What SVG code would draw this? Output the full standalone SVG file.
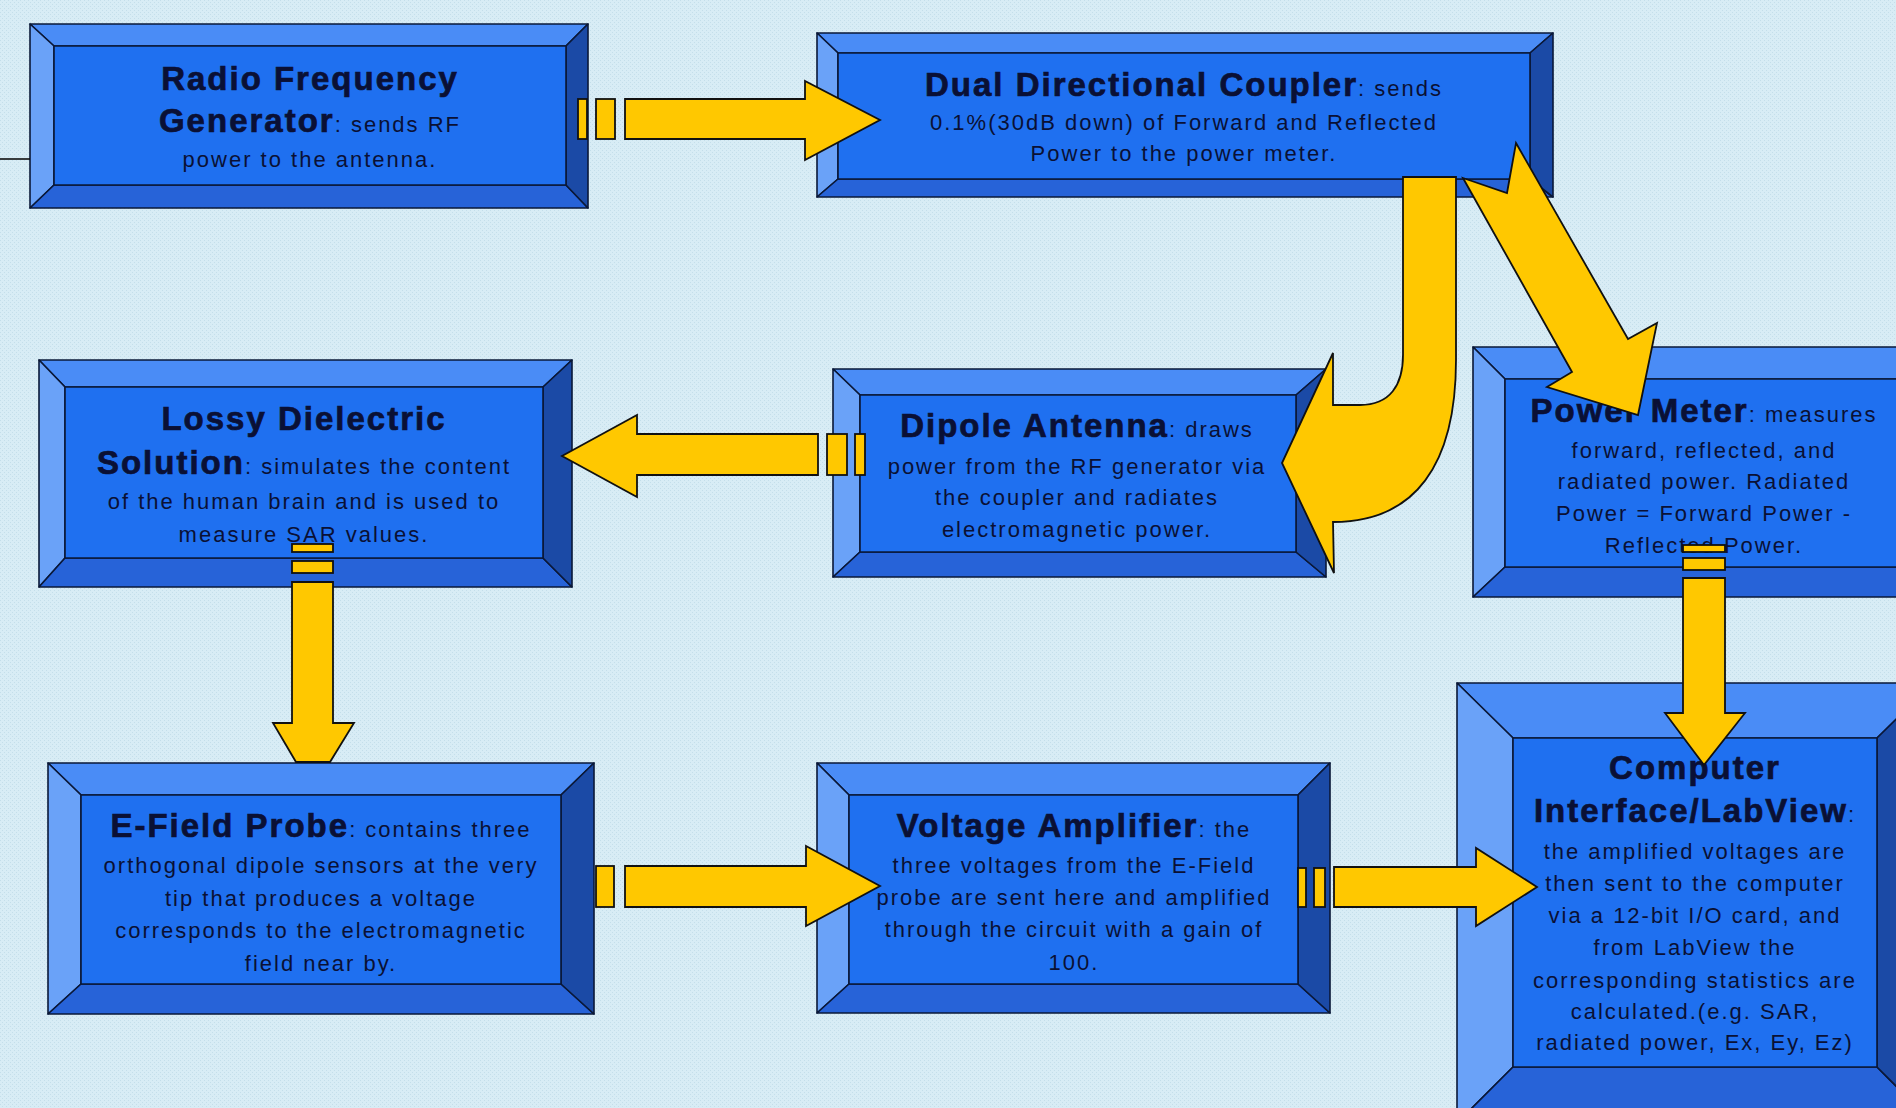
<svg xmlns="http://www.w3.org/2000/svg" width="1896" height="1108" viewBox="0 0 1896 1108">
<style>
.bt{fill:#4a8cf6}.bl{fill:#6aa2f8}.bb{fill:#2763d8}.br{fill:#1b4aa6}.bf{fill:#1f70f0}
.bt,.bl,.bb,.br,.bf{stroke:#0a1838;stroke-width:1.6;stroke-linejoin:round}
.ar{fill:#ffc800;stroke:#111;stroke-width:1.8;stroke-linejoin:miter}
text{font-family:"Liberation Sans",Arial,sans-serif;fill:#0a1035;text-anchor:middle}
.s{font-size:22px;letter-spacing:2px}
.b{font-size:33px;font-weight:bold;letter-spacing:2px;stroke:#0a1035;stroke-width:0.7}
</style>
<defs>
<pattern id="bg" width="4" height="4" patternUnits="userSpaceOnUse">
<rect width="4" height="4" fill="#d8ecf5"/>
<rect x="0" y="0" width="1" height="1" fill="#c4deea"/>
<rect x="2" y="2" width="1" height="1" fill="#c4deea"/>
</pattern>
</defs>
<rect width="1896" height="1108" fill="url(#bg)"/>

<g id="rf-generator">
<polygon class="bt" points="30,24 588,24 566,46 54,46"/>
<polygon class="bl" points="30,24 54,46 54,185 30,208"/>
<polygon class="bb" points="30,208 54,185 566,185 588,208"/>
<polygon class="br" points="588,24 588,208 566,185 566,46"/>
<rect class="bf" x="54" y="46" width="512" height="139"/>
<text class="b" x="310" y="90">Radio Frequency</text>
<text class="s" x="310" y="132"><tspan class="b">Generator</tspan>: sends RF</text>
<text class="s" x="310" y="167">power to the antenna.</text>
</g>

<g id="coupler">
<polygon class="bt" points="817,33 1553,33 1530,53 838,53"/>
<polygon class="bl" points="817,33 838,53 838,179 817,197"/>
<polygon class="bb" points="817,197 838,179 1530,179 1553,197"/>
<polygon class="br" points="1553,33 1553,197 1530,179 1530,53"/>
<rect class="bf" x="838" y="53" width="692" height="126"/>
<text class="s" x="1184" y="96"><tspan class="b">Dual Directional Coupler</tspan>: sends</text>
<text class="s" x="1184" y="130">0.1%(30dB down) of Forward and Reflected</text>
<text class="s" x="1184" y="161">Power to the power meter.</text>
</g>

<g id="lossy-dielectric">
<polygon class="bt" points="39,360 572,360 543,387 65,387"/>
<polygon class="bl" points="39,360 65,387 65,558 39,587"/>
<polygon class="bb" points="39,587 65,558 543,558 572,587"/>
<polygon class="br" points="572,360 572,587 543,558 543,387"/>
<rect class="bf" x="65" y="387" width="478" height="171"/>
<text class="b" x="304" y="430">Lossy Dielectric</text>
<text class="s" x="304" y="474"><tspan class="b">Solution</tspan>: simulates the content</text>
<text class="s" x="304" y="509">of the human brain and is used to</text>
<text class="s" x="304" y="542">measure SAR values.</text>
</g>

<g id="dipole-antenna">
<polygon class="bt" points="833,369 1326,369 1296,395 860,395"/>
<polygon class="bl" points="833,369 860,395 860,552 833,577"/>
<polygon class="bb" points="833,577 860,552 1296,552 1326,577"/>
<polygon class="br" points="1326,369 1326,577 1296,552 1296,395"/>
<rect class="bf" x="860" y="395" width="436" height="157"/>
<text class="s" x="1077" y="437"><tspan class="b">Dipole Antenna</tspan>: draws</text>
<text class="s" x="1077" y="474">power from the RF generator via</text>
<text class="s" x="1077" y="505">the coupler and radiates</text>
<text class="s" x="1077" y="537">electromagnetic power.</text>
</g>

<g id="power-meter">
<polygon class="bt" points="1473,347 1935,347 1905,379 1505,379"/>
<polygon class="bl" points="1473,347 1505,379 1505,567 1473,597"/>
<polygon class="bb" points="1473,597 1505,567 1905,567 1935,597"/>
<polygon class="br" points="1935,347 1935,597 1905,567 1905,379"/>
<rect class="bf" x="1505" y="379" width="400" height="188"/>
<text class="s" x="1704" y="422"><tspan class="b">Power Meter</tspan>: measures</text>
<text class="s" x="1704" y="458">forward, reflected, and</text>
<text class="s" x="1704" y="489">radiated power.  Radiated</text>
<text class="s" x="1704" y="521">Power = Forward Power -</text>
<text class="s" x="1704" y="553">Reflected Power.</text>
</g>

<g id="e-field-probe">
<polygon class="bt" points="48,763 594,763 561,795 81,795"/>
<polygon class="bl" points="48,763 81,795 81,984 48,1014"/>
<polygon class="bb" points="48,1014 81,984 561,984 594,1014"/>
<polygon class="br" points="594,763 594,1014 561,984 561,795"/>
<rect class="bf" x="81" y="795" width="480" height="189"/>
<text class="s" x="321" y="837"><tspan class="b">E-Field Probe</tspan>: contains three</text>
<text class="s" x="321" y="873">orthogonal dipole sensors at the very</text>
<text class="s" x="321" y="906">tip that produces a voltage</text>
<text class="s" x="321" y="938">corresponds to the electromagnetic</text>
<text class="s" x="321" y="971">field near by.</text>
</g>

<g id="voltage-amplifier">
<polygon class="bt" points="817,763 1330,763 1298,795 849,795"/>
<polygon class="bl" points="817,763 849,795 849,984 817,1013"/>
<polygon class="bb" points="817,1013 849,984 1298,984 1330,1013"/>
<polygon class="br" points="1330,763 1330,1013 1298,984 1298,795"/>
<rect class="bf" x="849" y="795" width="449" height="189"/>
<text class="s" x="1074" y="837"><tspan class="b">Voltage Amplifier</tspan>: the</text>
<text class="s" x="1074" y="873">three voltages from the E-Field</text>
<text class="s" x="1074" y="905">probe are sent here and amplified</text>
<text class="s" x="1074" y="937">through the circuit with a gain of</text>
<text class="s" x="1074" y="970">100.</text>
</g>

<g id="computer-interface">
<polygon class="bt" points="1457,683 1933,683 1877,738 1513,738"/>
<polygon class="bl" points="1457,683 1513,738 1513,1067 1457,1123"/>
<polygon class="bb" points="1457,1123 1513,1067 1877,1067 1933,1123"/>
<polygon class="br" points="1933,683 1933,1123 1877,1067 1877,738"/>
<rect class="bf" x="1513" y="738" width="364" height="329"/>
<text class="b" x="1695" y="779">Computer</text>
<text class="s" x="1695" y="822"><tspan class="b">Interface/LabView</tspan>:</text>
<text class="s" x="1695" y="859">the amplified voltages are</text>
<text class="s" x="1695" y="891">then sent to the computer</text>
<text class="s" x="1695" y="923">via a 12-bit I/O card, and</text>
<text class="s" x="1695" y="955">from LabView the</text>
<text class="s" x="1695" y="988">corresponding statistics are</text>
<text class="s" x="1695" y="1019">calculated.(e.g. SAR,</text>
<text class="s" x="1695" y="1050">radiated power, Ex, Ey, Ez)</text>
</g>

<g id="connectors">
<line x1="0" y1="159" x2="30" y2="159" stroke="#111" stroke-width="1.6"/>
<!-- RF generator to coupler -->
<rect class="ar" x="578" y="99" width="9" height="40"/>
<rect class="ar" x="596" y="99" width="19" height="40"/>
<polygon class="ar" points="625,99 805,99 805,81 880,120 805,160 805,139 625,139"/>
<!-- coupler to dipole (curved) -->
<path class="ar" d="M1403,177 L1456,177 L1456,360 C1456,465 1415,522 1333,522 L1334,573 L1282,463 L1333,353 L1333,405 L1360,405 C1390,405 1403,385 1403,355 Z"/>
<!-- coupler to power meter (diagonal) -->
<polygon class="ar" points="1516,143 1628,339 1657,323 1638,415 1547,387 1572,372 1463,178 1507,193"/>
<!-- dipole to lossy -->
<rect class="ar" x="827" y="434" width="20" height="41"/>
<rect class="ar" x="855" y="434" width="10" height="41"/>
<polygon class="ar" points="818,434 637,434 637,415 562,456 637,497 637,475 818,475"/>
<!-- lossy to e-field -->
<rect class="ar" x="292" y="544" width="41" height="8"/>
<rect class="ar" x="292" y="561" width="41" height="12"/>
<polygon class="ar" points="292,582 333,582 333,723 354,723 330,762 296,762 273,723 292,723"/>
<!-- e-field to amplifier -->
<rect class="ar" x="596" y="866" width="18" height="41"/>
<polygon class="ar" points="625,866 806,866 806,846 880,886 806,926 806,907 625,907"/>
<!-- amplifier to computer -->
<rect class="ar" x="1298" y="868" width="8" height="39"/>
<rect class="ar" x="1314" y="868" width="11" height="39"/>
<polygon class="ar" points="1334,867 1476,867 1476,848 1537,887 1476,926 1476,907 1334,907"/>
<!-- power meter to computer -->
<rect class="ar" x="1683" y="545" width="42" height="7"/>
<rect class="ar" x="1683" y="558" width="42" height="12"/>
<polygon class="ar" points="1683,578 1725,578 1725,713 1745,713 1704,765 1665,713 1683,713"/>
</g>
</svg>
